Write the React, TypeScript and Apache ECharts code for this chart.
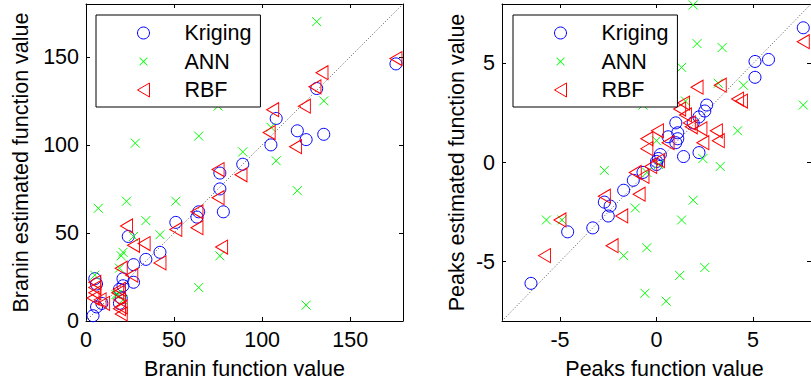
import React, { useEffect, useRef } from "react";
import * as echarts from "echarts";

// ---------- data ----------
const braninTicks = [0, 50, 100, 150];
const peaksTicks = [-5, 0, 5];
const braninRange = [0, 180];
const peaksRange = [-8, 8];

const braninKriging: number[][] = [
  [176, 146], [131, 132], [108, 115], [105, 100], [120, 108], [125, 103], [135, 106],
  [89, 89], [76, 84], [76, 75], [78, 62], [64, 62], [63, 59], [51, 56], [42, 39],
  [34, 35], [27, 32], [24, 48], [27, 22], [21, 24], [21, 20], [19, 18], [20, 13],
  [5, 24], [6, 21], [9, 10], [6, 8], [4, 3], [19, 10],
];
const braninANN: number[][] = [
  [131, 170], [75, 122], [135, 125], [64, 105], [28, 101], [105, 110], [89, 96],
  [108, 91], [120, 74], [7, 64], [23, 68], [51, 68], [34, 57], [42, 49], [27, 48],
  [21, 39], [20, 37], [19, 30], [76, 37], [64, 19], [125, 9], [5, 26], [18, 15],
  [21, 12], [17, 15],
];
const braninRBF: number[][] = [
  [176, 149], [134, 141], [130, 133], [124, 122], [106, 120], [104, 107], [119, 99],
  [88, 83], [75, 86], [75, 70], [77, 42], [63, 62], [63, 53], [51, 52], [42, 33],
  [33, 44], [27, 43], [23, 54], [20, 30], [26, 26], [19, 18], [20, 8], [20, 4],
  [5, 22], [5, 19], [5, 16], [4, 13], [10, 10], [18, 16], [19, 7], [19, 12], [8, 12],
];

const peaksKriging: number[][] = [
  [7.6, 6.8], [5.1, 5.1], [5.8, 5.2], [5.1, 4.3], [2.6, 2.9], [2.5, 2.6], [2.2, 2.3],
  [1.9, 2.0], [2.2, 0.5], [1.4, 0.3], [1.0, 2.0], [1.1, 1.5], [1.1, 1.2], [1.0, 1.0],
  [0.6, 1.3], [0.2, 0.4], [0.1, 0.2], [0, 0.05], [0, -0.1], [-0.7, -0.5], [-1.2, -0.9],
  [-1.7, -1.4], [-2.7, -2.0], [-2.4, -2.2], [-2.5, -2.7], [-3.3, -3.3], [-4.6, -3.5],
  [-6.5, -6.1],
];
const peaksANN: number[][] = [
  [1.9, 7.95], [2.1, 6.0], [3.4, 5.8], [1.3, 4.8], [1.5, 3.1], [-0.7, 2.9], [3.2, 4.0],
  [4.5, 3.9], [7.6, 2.9], [4.2, 1.6], [0, 1.1], [2.4, 0.2], [3.3, -0.2], [-2.7, -0.4],
  [1.9, -1.9], [-1.1, -2.3], [1.3, -2.9], [-5.7, -2.9], [-4.9, -2.9], [-1.7, -4.7],
  [-0.5, -4.3], [2.5, -5.3], [1.2, -5.7], [-0.6, -6.6], [0.5, -7.0], [0.1, -0.1],
  [-0.5, -0.5],
];
const peaksRBF: number[][] = [
  [7.6, 6.1], [3.3, 3.9], [2.1, 3.8], [4.2, 3.2], [4.4, 3.1], [1.4, 3.0], [1.2, 2.7],
  [1.5, 2.4], [1.7, 2.0], [1.8, 1.8], [2.3, 1.7], [3.1, 1.6], [3.2, 1.1], [2.4, 1.0],
  [0.05, 1.6], [-0.5, 1.2], [0.6, 1.0], [-0.5, 0.7], [0.1, 0.1], [-0.3, -0.2],
  [-1.1, -0.5], [-0.7, -0.7], [-0.9, -1.6], [-2.7, -1.7], [-1.8, -2.7], [-5.0, -2.9],
  [-2.3, -4.2], [-5.8, -4.7],
];

const seriesNames = ["Kriging", "ANN", "RBF"];
const braninTitles = ["Branin function value", "Branin estimated function value"];
const peaksTitles = ["Peaks function value", "Peaks estimated function value"];

// ---------- styles ----------
const FONT = "Liberation Sans, Arial, Helvetica, sans-serif";
const FS = 21.5;
const BLUE = "#0000ff";
const GREEN = "#00ff00";
const RED = "#ff0000";
const CLEAR = "rgba(0,0,0,0)";
const TRI = "path://M0,7L12,0L12,14Z";
const CROSS = "path://M0,0L10,10M10,0L0,10";
// filled X shape (two thin bars) inside a 12x14 box, for the legends
const CROSS_LEGEND =
  "path://M0,0M12,14M2.4,3L10,10.6L9.6,11L2,3.4ZM9.6,3L10,3.4L2.4,11L2,10.6Z";

const styles = [
  { symbol: "circle", size: 12, color: BLUE },
  { symbol: CROSS, size: 9, color: GREEN },
  { symbol: TRI, size: [12, 14], color: RED },
];

function makeAxis(
  dim: "x" | "y",
  gridIndex: number,
  position: string,
  range: number[],
  ticks: number[],
  interval: number,
  name: string,
  showLabel: boolean,
  nameGap: number,
  namePad: number[] = [0, 0, 0, 0]
) {
  return {
    type: "value",
    gridIndex,
    position,
    min: range[0],
    max: range[1],
    interval,
    name: showLabel ? name : "",
    nameLocation: "middle",
    nameGap,
    nameTextStyle: { fontFamily: FONT, fontSize: FS, color: "#000", padding: namePad },
    axisLine: { show: true, onZero: false, lineStyle: { color: "#000", width: 1 } },
    axisTick: {
      show: true,
      inside: true,
      length: 4,
      customValues: ticks,
      lineStyle: { color: "#000", width: 1 },
    },
    axisLabel: {
      show: showLabel,
      customValues: ticks,
      margin: dim === "x" ? 8 : 7,
      fontFamily: FONT,
      fontSize: FS,
      color: "#000",
    },
    splitLine: { show: false },
  };
}

function makeLegend(id: string, left: number) {
  return {
    id,
    left,
    top: 15,
    orient: "vertical",
    backgroundColor: "#fff",
    borderColor: "#000",
    borderWidth: 1,
    borderRadius: 0,
    padding: [7, 9, 6, 41],
    itemWidth: 12,
    itemHeight: 14,
    itemGap: 6.5,
    selectedMode: false,
    textStyle: {
      fontFamily: FONT,
      fontSize: FS,
      color: "#000",
      lineHeight: 22,
      padding: [0, 0, 0, 30],
    },
    data: [
      {
        name: seriesNames[0],
        icon: "circle",
        itemStyle: { color: CLEAR, borderColor: BLUE, borderWidth: 1, opacity: 1 },
      },
      {
        name: seriesNames[1],
        icon: CROSS_LEGEND,
        itemStyle: { color: GREEN, borderColor: GREEN, borderWidth: 0.3, opacity: 1 },
      },
      {
        name: seriesNames[2],
        icon: TRI,
        itemStyle: { color: CLEAR, borderColor: RED, borderWidth: 1, opacity: 1 },
      },
    ],
    z: 10,
  };
}

function scatter(name: string, idx: number, data: number[][], axisIndex: number) {
  const s = styles[idx];
  return {
    type: "scatter",
    name,
    xAxisIndex: axisIndex,
    yAxisIndex: axisIndex,
    data,
    symbol: s.symbol,
    symbolSize: s.size,
    itemStyle: { color: CLEAR, borderColor: s.color, borderWidth: 1, opacity: 1 },
    emphasis: { disabled: true },
    z: 3,
  };
}

function diag(range: number[], axisIndex: number) {
  return {
    type: "line",
    xAxisIndex: axisIndex,
    yAxisIndex: axisIndex,
    data: [
      [range[0], range[0]],
      [range[1], range[1]],
    ],
    symbol: "none",
    silent: true,
    lineStyle: { color: "#555", width: 1, type: [1, 2] },
    z: 2,
  };
}

export default function App() {
  const ref = useRef<HTMLDivElement>(null);
  useEffect(() => {
    if (!ref.current) return;
    const chart = echarts.init(ref.current, undefined, { renderer: "svg" });
    const option = {
      animation: false,
      backgroundColor: "#fff",
      grid: [
        { left: 86, top: 4, width: 317, height: 318 },
        { left: 502, top: 4, width: 316, height: 318 },
      ],
      legend: [makeLegend("legL", 96), makeLegend("legR", 513)],
      xAxis: [
        makeAxis("x", 0, "bottom", braninRange, braninTicks, 10, braninTitles[0], true, 37),
        makeAxis("x", 0, "top", braninRange, braninTicks, 10, "", false, 0),
        makeAxis("x", 1, "bottom", peaksRange, peaksTicks, 1, peaksTitles[0], true, 37, [0, 0, 0, 16]),
        makeAxis("x", 1, "top", peaksRange, peaksTicks, 1, "", false, 0),
      ],
      yAxis: [
        makeAxis("y", 0, "left", braninRange, braninTicks, 10, braninTitles[1], true, 54),
        makeAxis("y", 0, "right", braninRange, braninTicks, 10, "", false, 0),
        makeAxis("y", 1, "left", peaksRange, peaksTicks, 1, peaksTitles[1], true, 34),
        makeAxis("y", 1, "right", peaksRange, peaksTicks, 1, "", false, 0),
      ],
      series: [
        diag(braninRange, 0),
        scatter(seriesNames[0], 0, braninKriging, 0),
        scatter(seriesNames[1], 1, braninANN, 0),
        scatter(seriesNames[2], 2, braninRBF, 0),
        diag(peaksRange, 2),
        scatter(seriesNames[0], 0, peaksKriging, 2),
        scatter(seriesNames[1], 1, peaksANN, 2),
        scatter(seriesNames[2], 2, peaksRBF, 2),
      ],
    };
    chart.setOption(option as any);
    return () => chart.dispose();
  }, []);
  return (
    <div
      ref={ref}
      style={{ position: "fixed", left: 0, top: 0, width: 811, height: 385, background: "#fff" }}
    />
  );
}
